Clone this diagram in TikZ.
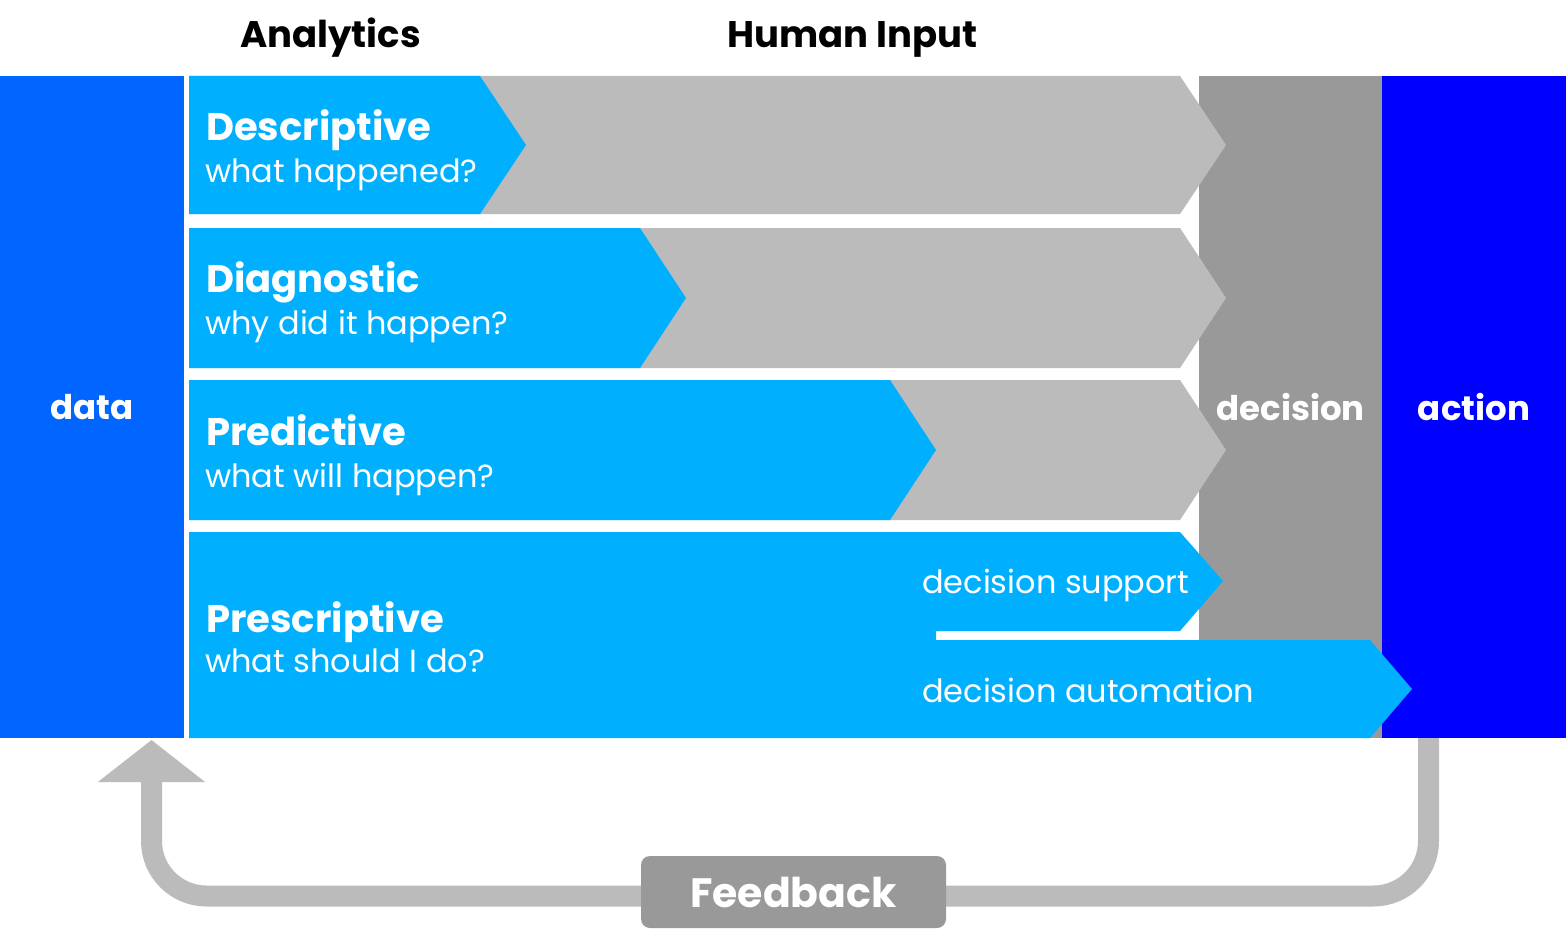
\documentclass[tikz,border=0pt]{standalone}
\usepackage{fontspec}
\setmainfont{Poppins}
\usetikzlibrary{arrows.meta}
\definecolor{datablue}{HTML}{0066FF}
\definecolor{anblue}{HTML}{00B0FF}
\definecolor{lgrey}{HTML}{BBBBBB}
\definecolor{dgrey}{HTML}{999999}
\definecolor{actblue}{HTML}{0000FF}
\tikzset{
  colbox/.style={rectangle, inner sep=0pt, outer sep=0pt, text=white, font=\fontsize{34}{34}\selectfont\bfseries},
  title/.style={anchor=base west, inner sep=0pt, font=\fontsize{37}{37}\selectfont\bfseries, text=black},
  head/.style={anchor=base west, inner sep=0pt, font=\fontsize{38.5}{38.5}\selectfont\bfseries, text=white},
  sub/.style={anchor=base west, inner sep=0pt, font=\fontsize{32}{32}\selectfont, text=white},
  dec/.style={anchor=base west, inner sep=0pt, font=\fontsize{32}{32}\selectfont, text=white},
}
\begin{document}
\begin{tikzpicture}[x=1pt,y=-1pt]
\useasboundingbox (0,0) rectangle (1566,942);
% columns
\node[colbox, fill=datablue, minimum width=184pt, minimum height=662pt] (data) at (92,407) {data};
\node[colbox, fill=dgrey, minimum width=183pt, minimum height=662pt] (decision) at (1290.5,407) {};
\node[colbox, fill=actblue, minimum width=184pt, minimum height=662pt] (action) at (1474,407) {action};
% grey chevrons
\fill[lgrey] (189,76) -- (1180,76) -- (1226,145) -- (1180,214) -- (189,214) -- cycle;
\fill[lgrey] (189,228) -- (1180,228) -- (1226,298) -- (1180,368) -- (189,368) -- cycle;
\fill[lgrey] (189,380) -- (1180,380) -- (1226,450) -- (1180,520) -- (189,520) -- cycle;
\node[colbox] (declabel) at (1290.5,407) {decision};
% blue chevrons
\fill[anblue] (189,76) -- (480,76) -- (526,145) -- (480,214) -- (189,214) -- cycle;
\fill[anblue] (189,228) -- (640,228) -- (686,298) -- (640,368) -- (189,368) -- cycle;
\fill[anblue] (189,380) -- (890,380) -- (936,450) -- (890,520) -- (189,520) -- cycle;
\fill[anblue] (189,532) -- (1180,532) -- (1223,581) -- (1180,631) -- (936,631) -- (936,640)
  -- (1370,640) -- (1412,689) -- (1370,738) -- (189,738) -- cycle;
% titles
\node[title] (analytics) at (240,48) {Analytics};
\node[title] (human) at (727,48) {Human Input};
% texts
\node[head] (desc) at (206,140) {Descriptive};
\node[sub] (descq) at (205,182) {what happened?};
\node[head] (diag) at (206,292) {Diagnostic};
\node[sub] (diagq) at (205,334) {why did it happen?};
\node[head] (pred) at (206,445) {Predictive};
\node[sub] (predq) at (205,487) {what will happen?};
\node[head] (presc) at (206,632) {Prescriptive};
\node[sub] (prescq) at (205,672) {what should I do?};
\node[dec] (dsup) at (922,593) {decision support};
\node[dec] (dauto) at (922,702) {decision automation};
% feedback loop
\coordinate (fbstart) at (1428.5,738);
\coordinate (fbend) at (151.5,740);
\draw[lgrey, line width=21pt, rounded corners=55pt, -{Triangle[width=105pt,length=42pt]}]
  (fbstart) -- (1428.5,896) -- (151.5,896) -- (fbend);
\node[fill=dgrey, rounded corners=9pt, minimum width=305pt, minimum height=72pt, inner sep=0pt,
  text=white, font=\fontsize{41}{41}\selectfont\bfseries] (feedback) at (793.5,892) {Feedback};
\end{tikzpicture}
\end{document}
